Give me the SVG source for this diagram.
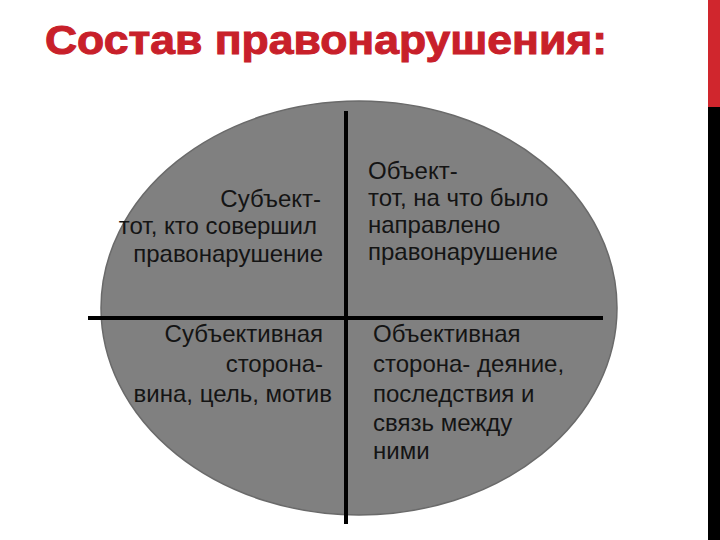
<svg xmlns="http://www.w3.org/2000/svg" width="720" height="540" viewBox="0 0 720 540">
<style>
.title{font-family:"Liberation Sans",Arial,sans-serif;font-weight:bold;font-size:40px;fill:#c8202a;stroke:#c8202a;stroke-width:1}
.t{font-family:"Liberation Sans",Arial,sans-serif;font-size:24px;fill:#141414}
.r{text-anchor:end}
.ln{stroke:#000;stroke-width:4;fill:none}
</style>
<rect x="0" y="0" width="720" height="540" fill="#fff"/>
<rect x="708" y="0" width="12" height="107" fill="#d0262d"/>
<rect x="708" y="107" width="12" height="433" fill="#000"/>
<text class="title" x="45" y="54" textLength="562" lengthAdjust="spacingAndGlyphs">Состав правонарушения:</text>
<g id="ellipse">
<ellipse cx="359" cy="308" rx="258" ry="207" fill="#808080" stroke="#6a6a6a" stroke-width="1.5"/>
</g>
<g id="connectors">
<line class="ln" x1="346" y1="111" x2="346" y2="524"/>
<line class="ln" x1="88" y1="318" x2="346" y2="318"/>
<line class="ln" x1="346" y1="318" x2="603" y2="318"/>
</g>
<g id="subject">
<text class="t r" x="321" y="207">Субъект-</text>
<text class="t r" x="317" y="234">тот, кто совершил</text>
<text class="t r" x="323" y="262">правонарушение</text>
</g>
<g id="object">
<text class="t" x="368" y="179">Объект-</text>
<text class="t" x="368" y="206">тот, на что было</text>
<text class="t" x="368" y="233">направлено</text>
<text class="t" x="368" y="260">правонарушение</text>
</g>
<g id="subjective">
<text class="t r" x="323" y="342">Субъективная</text>
<text class="t r" x="323" y="372">сторона-</text>
<text class="t r" x="332" y="402">вина, цель, мотив</text>
</g>
<g id="objective">
<text class="t" x="373" y="342">Объективная</text>
<text class="t" x="373" y="372">сторона- деяние,</text>
<text class="t" x="373" y="402">последствия и</text>
<text class="t" x="373" y="431">связь между</text>
<text class="t" x="373" y="459">ними</text>
</g>
</svg>
